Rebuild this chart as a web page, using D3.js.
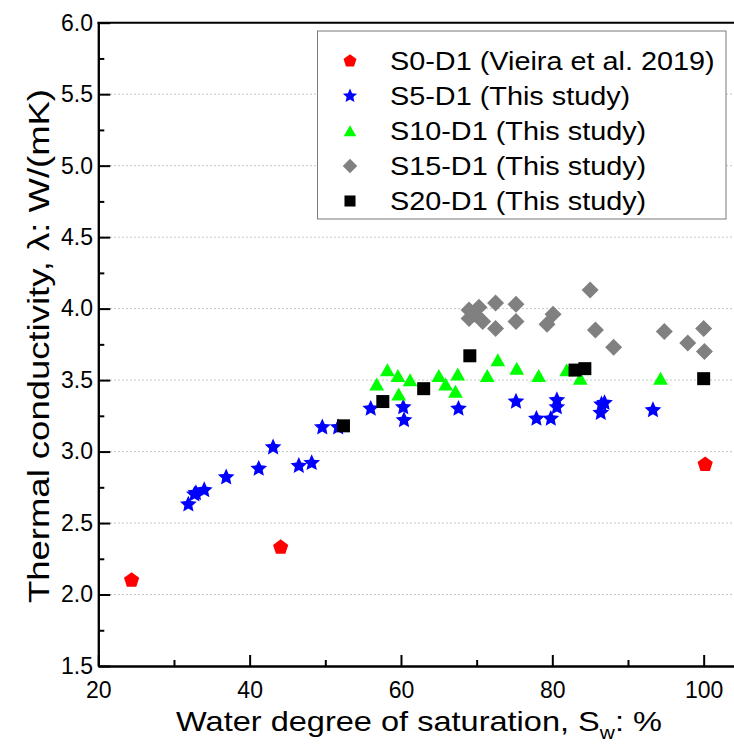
<!DOCTYPE html>
<html>
<head>
<meta charset="utf-8">
<script src="https://cdn.jsdelivr.net/npm/d3@7"></script>
<style>
  html, body { margin: 0; padding: 0; background: #fff; }
  svg { display: block; font-family: "Liberation Sans", Arial, sans-serif; }
</style>
</head>
<body>
<svg id="chart" width="734" height="755"></svg>
<script>
// ---- data ----
const s0X = [24.4, 44.1, 100.2];
const s0Y = [2.10, 2.33, 2.91];
const s5X = [31.9, 32.7, 32.9, 34.0, 36.9, 41.2, 43.1, 46.5, 48.2, 49.6, 51.7, 56.0, 60.3, 60.4, 67.6, 75.2, 77.9, 79.8, 80.6, 80.6, 86.5, 86.9, 86.4, 93.3];
const s5Y = [2.63, 2.70, 2.71, 2.73, 2.82, 2.88, 3.03, 2.90, 2.92, 3.17, 3.17, 3.30, 3.31, 3.22, 3.30, 3.35, 3.23, 3.23, 3.36, 3.31, 3.33, 3.34, 3.27, 3.29];
const s10X = [56.8, 58.2, 59.6, 61.2, 59.7, 65.0, 65.9, 67.5, 67.2, 71.4, 72.8, 75.3, 78.2, 81.9, 83.7, 94.3];
const s10Y = [3.47, 3.57, 3.53, 3.50, 3.40, 3.53, 3.47, 3.54, 3.42, 3.53, 3.64, 3.58, 3.53, 3.57, 3.51, 3.51];
const s15X = [69.0, 70.3, 69.0, 70.8, 69.8, 72.5, 72.5, 75.2, 75.2, 80.1, 79.3, 85.0, 85.7, 88.1, 94.8, 97.9, 100.0, 100.1];
const s15Y = [3.99, 4.01, 3.93, 3.91, 3.96, 4.04, 3.86, 4.03, 3.91, 3.96, 3.89, 4.13, 3.85, 3.73, 3.84, 3.76, 3.86, 3.70];
const s20X = [52.4, 57.6, 63.0, 69.1, 83.0, 84.3, 100.0];
const s20Y = [3.18, 3.35, 3.44, 3.67, 3.57, 3.58, 3.51];

const seriesNames = ["S0-D1 (Vieira et al. 2019)", "S5-D1 (This study)", "S10-D1 (This study)", "S15-D1 (This study)", "S20-D1 (This study)"];
const seriesColors = ["#ff0000", "#0000ff", "#00ff00", "#808080", "#000000"];
const seriesShapes = ["pentagon", "star", "triangle", "diamond", "square"];

const xMajorTicks = [20, 40, 60, 80, 100];
const xMinorTicks = [30, 50, 70, 90];
const yMajorTicks = [1.5, 2.0, 2.5, 3.0, 3.5, 4.0, 4.5, 5.0, 5.5, 6.0];
const yMinorTicks = [1.75, 2.25, 2.75, 3.25, 3.75, 4.25, 4.75, 5.25, 5.75];
const yGridTicks = [2.0, 2.5, 3.0, 3.5, 4.0, 4.5, 5.0, 5.5];

const xTitle = ["Water degree of saturation, S", "w", ": %"];
const yTitle = "Thermal conductivity, \u03bb: W/(mK)";

(function () {
const series = [
  {x: s0X, y: s0Y}, {x: s5X, y: s5Y}, {x: s10X, y: s10Y}, {x: s15X, y: s15Y}, {x: s20X, y: s20Y}
].map((s, i) => ({
  name: seriesNames[i], color: seriesColors[i], shape: seriesShapes[i],
  pts: s.x.map((v, j) => ({x: v, y: s.y[j]}))
}));

// ---- layout ----
const pLeft = 98.3, pBottom = 666, pTop = 22.7;
const pxPerX = 7.567;
const x = d3.scaleLinear().domain([20, 105]).range([pLeft, pLeft + 85 * pxPerX]);
const y = d3.scaleLinear().domain([1.5, 6.0]).range([pBottom, pTop]);

const svg = d3.select("#chart");

function polyPath(n, R, rot, innerRatio) {
  const pts = [];
  const m = innerRatio ? 2 * n : n;
  for (let k = 0; k < m; k++) {
    const r = innerRatio && (k % 2 === 1) ? R * innerRatio : R;
    const a = rot + k * 2 * Math.PI / m;
    pts.push([r * Math.sin(a), -r * Math.cos(a)]);
  }
  return "M" + pts.map(p => p[0].toFixed(2) + "," + p[1].toFixed(2)).join("L") + "Z";
}
const shapePaths = {
  pentagon: polyPath(5, 8.0, 0, 0),
  star: polyPath(5, 8.8, 0, 0.47),
  triangle: "M0,-6.9L7.4,6.1L-7.4,6.1Z",
  diamond: "M0,-8.5L8.5,0L0,8.5L-8.5,0Z",
  square: "M-6.5,-6.5L6.5,-6.5L6.5,6.5L-6.5,6.5Z"
};

// gridlines
svg.append("g").selectAll("line").data(yGridTicks).join("line")
  .attr("x1", pLeft).attr("x2", 734)
  .attr("y1", d => y(d)).attr("y2", d => y(d))
  .attr("stroke", "#b4b4b4").attr("stroke-width", 1)
  .attr("stroke-dasharray", "1.5,2.5");

// points
const gPts = svg.append("g");
series.forEach(s => {
  gPts.append("g").selectAll("path").data(s.pts).join("path")
    .attr("d", shapePaths[s.shape])
    .attr("transform", d => `translate(${x(d.x)},${y(d.y)})`)
    .attr("fill", s.color);
});

// axes
function styleAxis(g) {
  g.attr("font-size", 23).attr("font-family", '"Liberation Sans", Arial, sans-serif');
  g.selectAll("path.domain").attr("stroke", "#000").attr("stroke-width", 2);
  g.selectAll(".tick line").attr("stroke", "#000").attr("stroke-width", 2);
  g.selectAll(".tick text").attr("fill", "#000");
}
svg.append("g").attr("transform", `translate(0,${pBottom})`)
  .call(d3.axisBottom(x).tickValues(xMajorTicks).tickSizeInner(-11).tickSizeOuter(0).tickPadding(15.7).tickFormat(d3.format("d")))
  .call(styleAxis);
svg.append("g").attr("transform", `translate(0,${pBottom})`)
  .call(d3.axisBottom(x).tickValues(xMinorTicks).tickSizeInner(-6).tickSizeOuter(0).tickFormat(""))
  .call(styleAxis);
svg.append("g").attr("transform", `translate(${pLeft},0)`)
  .call(d3.axisLeft(y).tickValues(yMajorTicks).tickSizeInner(-12).tickSizeOuter(0).tickPadding(5.3).tickFormat(d3.format(".1f")))
  .call(styleAxis);
svg.append("g").attr("transform", `translate(${pLeft},0)`)
  .call(d3.axisLeft(y).tickValues(yMinorTicks).tickSizeInner(-6).tickSizeOuter(0).tickFormat(""))
  .call(styleAxis);
svg.append("line").attr("x1", pLeft - 1).attr("x2", 734).attr("y1", pTop).attr("y2", pTop)
  .attr("stroke", "#000").attr("stroke-width", 2);

// x title
const xt = svg.append("text").attr("font-size", 28).attr("fill", "#000").attr("text-anchor", "middle");
xt.append("tspan").text(xTitle[0]);
xt.append("tspan").attr("font-size", 18).attr("dy", 8).text(xTitle[1]);
xt.append("tspan").attr("dy", -8).text(xTitle[2]);
{
  const w = xt.node().getComputedTextLength();
  const target = 486;
  xt.attr("transform", `translate(419,731) scale(${target / w},1)`);
}

// y title
svg.append("text").attr("font-size", 29).attr("fill", "#000")
  .attr("text-anchor", "middle")
  .attr("transform", "translate(49,346) rotate(-90)")
  .attr("textLength", 514).attr("lengthAdjust", "spacingAndGlyphs")
  .text(yTitle);

// legend
const lg = svg.append("g");
lg.append("rect").attr("x", 317.5).attr("y", 31).attr("width", 408.5).attr("height", 188)
  .attr("fill", "#fff").attr("stroke", "#7a7a7a").attr("stroke-width", 1);
const rowY = d3.scaleLinear().domain([0, 4]).range([61, 201]);
series.forEach((s, i) => {
  lg.append("path").attr("d", shapePaths[s.shape])
    .attr("transform", `translate(350,${rowY(i)}) scale(0.85)`)
    .attr("fill", s.color);
  const t = lg.append("text").attr("x", 390).attr("y", rowY(i)).attr("dy", "0.36em")
    .attr("font-size", 25.5).attr("fill", "#000").text(s.name);
  const w = t.node().getComputedTextLength();
  t.attr("textLength", w * 1.13).attr("lengthAdjust", "spacingAndGlyphs");
});
})();
</script>
</body>
</html>
